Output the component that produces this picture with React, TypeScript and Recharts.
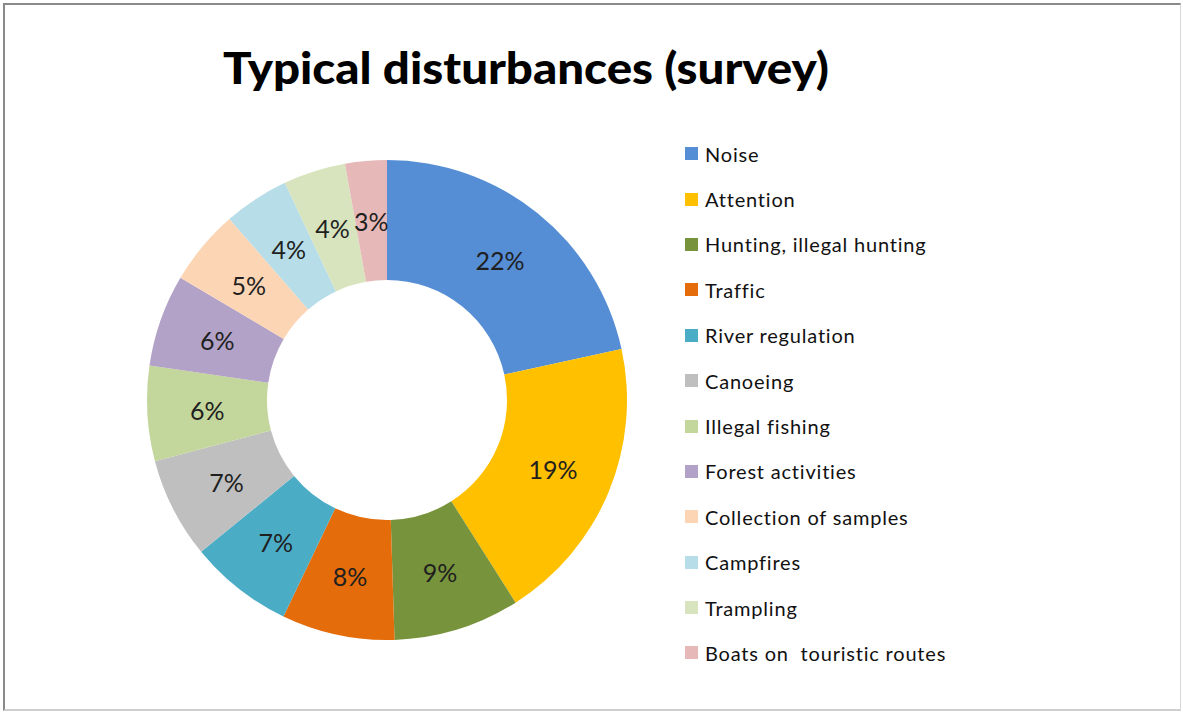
import React from 'react';
import { PieChart, Pie, Cell, Legend } from 'recharts';

const categories = [
  'Noise',
  'Attention',
  'Hunting, illegal hunting',
  'Traffic',
  'River regulation',
  'Canoeing',
  'Illegal fishing',
  'Forest activities',
  'Collection of samples',
  'Campfires',
  'Trampling',
  'Boats on  touristic routes',
];
const values = [21.6, 19.4, 8.5, 7.6, 7.0, 6.8, 6.4, 6.2, 5.1, 4.4, 4.2, 2.8];
const colors = [
  '#558ED5', '#FFC000', '#77933C', '#E46C0A', '#4BACC6', '#BFBFBF',
  '#C3D69B', '#B3A2C7', '#FCD5B5', '#B7DDE8', '#D7E4BD', '#E6B9B8',
];
const title = 'Typical disturbances (survey)';

const data = categories.map((name, i) => ({ name, value: values[i] }));
const total = values.reduce((a, b) => a + b, 0);

const RAD = Math.PI / 180;

const renderLabel = (props: any) => {
  const { cx, cy, midAngle, innerRadius, outerRadius, value } = props;
  const r = (innerRadius + outerRadius) / 2;
  const x = cx + r * Math.cos(-midAngle * RAD);
  const y = cy + r * Math.sin(-midAngle * RAD);
  return (
    <text
      x={x}
      y={y}
      textAnchor="middle"
      dominantBaseline="central"
      fill="#1f1f1f"
      fontFamily="Lato, 'Open Sans', sans-serif"
      fontSize={25}
    >
      {`${Math.round((value / total) * 100)}%`}
    </text>
  );
};

const renderLegend = () => (
  <div style={{ fontFamily: "Lato, 'Open Sans', sans-serif", fontSize: 20, letterSpacing: 0.8, color: '#111' }}>
    {data.map((d, i) => (
      <div key={d.name} style={{ display: 'flex', alignItems: 'center', height: 45.4, whiteSpace: 'pre' }}>
        <span style={{ display: 'inline-block', width: 13, height: 13, background: colors[i], marginRight: 7 }} />
        <span>{d.name}</span>
      </div>
    ))}
  </div>
);

export default function App() {
  return (
    <div style={{ position: 'fixed', left: 0, top: 0, width: 1183, height: 713, background: '#fff' }}>
      <div
        style={{
          position: 'absolute',
          left: 3,
          top: 3,
          width: 1178,
          height: 708,
          borderLeft: '2px solid #8a8a8a',
          borderTop: '2px solid #8a8a8a',
          borderRight: '1px solid #d8d8d8',
          borderBottom: '2px solid #cfcfcf',
          boxSizing: 'border-box',
        }}
      />
      <svg width={1183} height={713} style={{ position: 'absolute', left: 0, top: 0 }}>
        <text
          x={223}
          y={84}
          textLength={606}
          lengthAdjust="spacingAndGlyphs"
          fontFamily="Lato, 'Open Sans', sans-serif"
          fontWeight={900}
          fontSize={44}
          fill="#000"
        >
          {title}
        </text>
      </svg>
      <PieChart
        width={1183}
        height={713}
        margin={{ top: 0, right: 0, bottom: 0, left: 0 }}
        style={{ position: 'absolute', left: 0, top: 0 }}
      >
        <Pie
          data={data}
          dataKey="value"
          nameKey="name"
          cx={387}
          cy={400}
          innerRadius={120}
          outerRadius={240}
          startAngle={90}
          endAngle={-270}
          stroke="none"
          label={renderLabel}
          labelLine={false}
          isAnimationActive={false}
        >
          {data.map((d, i) => (
            <Cell key={d.name} fill={colors[i]} />
          ))}
        </Pie>
        <Legend
          layout="horizontal"
          align="right"
          verticalAlign="bottom"
          content={renderLegend}
          wrapperStyle={{ left: 685, top: 131, bottom: 'auto', width: 400 }}
        />
      </PieChart>
    </div>
  );
}
